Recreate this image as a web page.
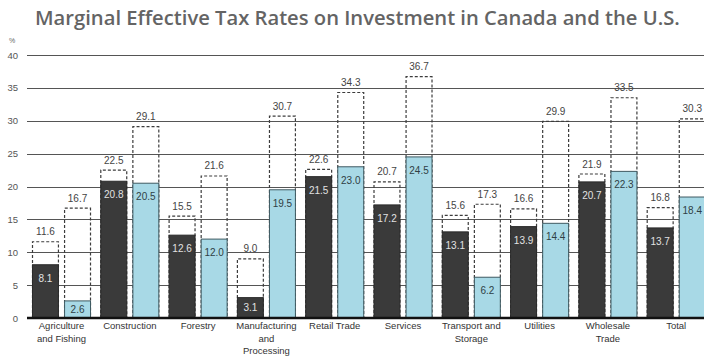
<!DOCTYPE html>
<html>
<head>
<meta charset="utf-8">
<script src="https://cdn.jsdelivr.net/npm/d3@7"></script>
<style>
  body { margin: 0; background: #fff; }
  svg { display: block; }
</style>
</head>
<body>
<div id="chart"></div>
<script>
const categories = [
  "Agriculture and Fishing", "Construction", "Forestry", "Manufacturing and Processing",
  "Retail Trade", "Services", "Transport and Storage", "Utilities", "Wholesale Trade", "Total"
];
const categoryLines = [
  ["Agriculture", "and Fishing"], ["Construction"], ["Forestry"], ["Manufacturing", "and", "Processing"],
  ["Retail Trade"], ["Services"], ["Transport and", "Storage"], ["Utilities"], ["Wholesale", "Trade"], ["Total"]
];
const canadaValues = [8.1, 20.8, 12.6, 3.1, 21.5, 17.2, 13.1, 13.9, 20.7, 13.7];
const canadaDashed = [11.6, 22.5, 15.5, 9.0, 22.6, 20.7, 15.6, 16.6, 21.9, 16.8];
const usValues = [2.6, 20.5, 12.0, 19.5, 23.0, 24.5, 6.2, 14.4, 22.3, 18.4];
const usDashed = [16.7, 29.1, 21.6, 30.7, 34.3, 36.7, 17.3, 29.9, 33.5, 30.3];
const yTicks = [0, 5, 10, 15, 20, 25, 30, 35, 40];

const width = 704;
const height = 356;
const margin = { top: 55, bottom: 38, left: 27 };

const svg = d3
  .select("#chart")
  .append("svg")
  .attr("width", width)
  .attr("height", height);

// Title

svg
  .append("text")
  .attr("x", 35)
  .attr("y", 25)
  .attr("font-family", "'Open Sans', sans-serif")
  .attr("font-weight", 600)
  .attr("font-size", "20.2px")
  .attr("fill", "#646464")
  .text("Marginal Effective Tax Rates on Investment in Canada and the U.S.");

svg
  .append("text")
  .attr("x", 9)
  .attr("y", 43)
  .attr("font-family", "'Liberation Sans', Arial, sans-serif")
  .attr("font-size", "7px")
  .attr("fill", "#666")
  .text("%");

// Scales

const yScale = d3
  .scaleLinear()
  .domain([0, 40])
  .range([height - margin.bottom, margin.top]);

const step = 68.3;
const inner = 0.136;
const xScale = d3
  .scaleBand()
  .domain(categories)
  .range([32, 32 + step * (categories.length - inner)])
  .paddingInner(inner)
  .paddingOuter(0);

const series = ["ca", "us"];
const subScale = d3
  .scaleBand()
  .domain(series)
  .range([0, xScale.bandwidth()])
  .paddingInner(0.16);

// Grid

svg
  .append("g")
  .selectAll("line")
  .data(yTicks.filter((t) => t > 0))
  .enter()
  .append("line")
  .attr("x1", margin.left)
  .attr("x2", width)
  .attr("y1", (d) => Math.round(yScale(d)) + 0.5)
  .attr("y2", (d) => Math.round(yScale(d)) + 0.5)
  .attr("stroke", "#555")
  .attr("stroke-width", 1);

svg
  .append("g")
  .selectAll("text")
  .data(yTicks)
  .enter()
  .append("text")
  .attr("x", 18)
  .attr("y", (d) => yScale(d) + 3.5)
  .attr("text-anchor", "end")
  .attr("font-family", "'Liberation Sans', Arial, sans-serif")
  .attr("font-size", "9.5px")
  .attr("fill", "#555")
  .text((d) => d);

// Bars

const rows = categories.map((c, i) => ({
  cat: c,
  lines: categoryLines[i],
  bars: [
    { key: "ca", value: canadaValues[i], dashed: canadaDashed[i] },
    { key: "us", value: usValues[i], dashed: usDashed[i] },
  ],
}));

const groups = svg
  .append("g")
  .selectAll("g")
  .data(rows)
  .enter()
  .append("g")
  .attr("transform", (d) => `translate(${xScale(d.cat)},0)`);

const bars = groups
  .selectAll("g.bar")
  .data((d) => d.bars)
  .enter()
  .append("g")
  .attr("class", "bar")
  .attr("transform", (d) => `translate(${subScale(d.key)},0)`);

const bw = subScale.bandwidth();

// dashed boxes
bars
  .append("path")
  .attr("fill", "none")
  .attr("stroke", "#3c3c3c")
  .attr("stroke-width", 1.2)
  .attr("stroke-dasharray", "3,2")
  .attr("d", (d) => {
    const top = yScale(d.dashed);
    const base = yScale(0);
    return `M0.5,${base}V${top}H${bw - 0.5}V${base}`;
  });

bars
  .append("text")
  .attr("x", bw / 2)
  .attr("y", (d) => yScale(d.dashed) - 6.5)
  .attr("text-anchor", "middle")
  .attr("font-family", "'Liberation Sans', Arial, sans-serif")
  .attr("font-size", "10px")
  .attr("fill", "#444")
  .text((d) => d.dashed.toFixed(1));

bars
  .append("rect")
  .attr("x", 0.5)
  .attr("width", bw - 1)
  .attr("y", (d) => yScale(d.value))
  .attr("height", (d) => yScale(0) - yScale(d.value))
  .attr("fill", (d) => (d.key === "ca" ? "#3a3a3a" : "#a8d9e6"))
  .attr("stroke", (d) => (d.key === "ca" ? "#2a2a2a" : "#3f5a62"))
  .attr("stroke-width", 1);

bars
  .append("text")
  .attr("x", bw / 2)
  .attr("y", (d) => {
    const top = yScale(d.value);
    const h = yScale(0) - top;
    return h < 26 ? top + h / 2 + 3.5 : top + 17;
  })
  .attr("text-anchor", "middle")
  .attr("font-family", "'Liberation Sans', Arial, sans-serif")
  .attr("font-size", "10px")
  .attr("fill", (d) => (d.key === "ca" ? "#e2e2e2" : "#2f3f45"))
  .text((d) => d.value.toFixed(1));

// Baseline

svg
  .append("line")
  .attr("x1", margin.left)
  .attr("x2", width)
  .attr("y1", yScale(0))
  .attr("y2", yScale(0))
  .attr("stroke", "#111")
  .attr("stroke-width", 2.5);

// Category labels

groups
  .append("text")
  .attr("x", xScale.bandwidth() / 2)
  .attr("y", 329)
  .attr("text-anchor", "middle")
  .attr("font-family", "'Liberation Sans', Arial, sans-serif")
  .attr("font-size", "9.5px")
  .attr("fill", "#333")
  .selectAll("tspan")
  .data((d) => d.lines)
  .enter()
  .append("tspan")
  .attr("x", xScale.bandwidth() / 2)
  .attr("dy", (d, i) => (i === 0 ? 0 : 12.5))
  .text((d) => d);
</script>
</body>
</html>
